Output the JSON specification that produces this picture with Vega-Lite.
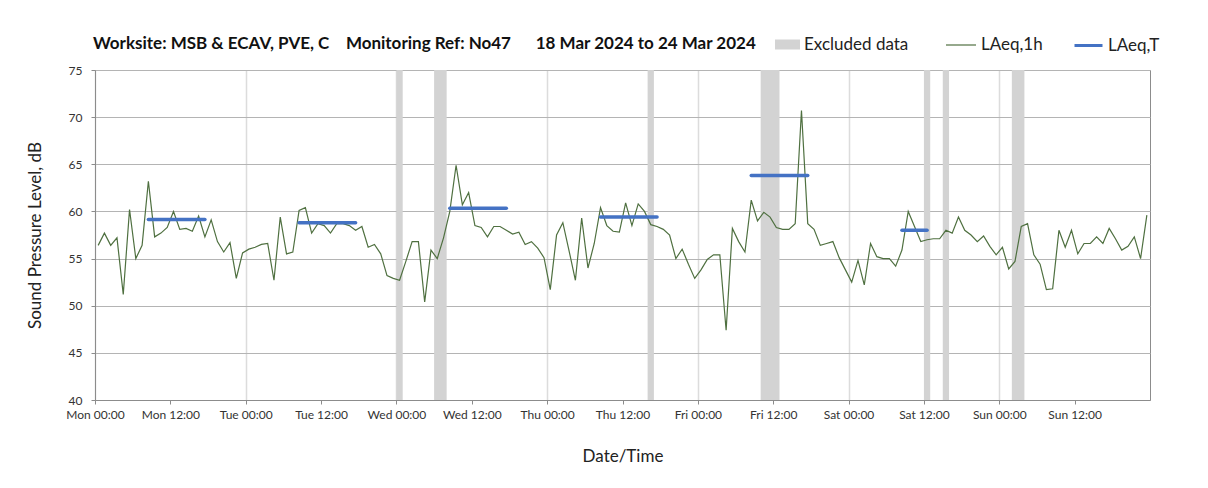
{
  "$schema": "https://vega.github.io/schema/vega-lite/v6.json",
  "width": 1055,
  "height": 330,
  "autosize": {"type": "none"},
  "padding": {"left": 95, "top": 70, "right": 58, "bottom": 88},
  "background": "#ffffff",
  "title": {
    "text": "Worksite: MSB & ECAV, PVE, C\u00a0\u00a0\u00a0\u00a0Monitoring Ref: No47\u00a0\u00a0\u00a0\u00a0\u00a0\u00a018 Mar 2024 to 24 Mar 2024",
    "anchor": "start", "frame": "group", "fontSize": 17, "fontWeight": "bold", "font": "Lato", "color": "#111111", "offset": 20, "dx": -2, "dy": 44
  },
  "config": {
    "font": "Lato",
    "view": {"stroke": "#8c8c8c", "strokeWidth": 1},
    "axis": {
      "labelFont": "Lato", "labelFontSize": 12, "labelColor": "#333333",
      "titleFont": "Lato", "titleFontSize": 17, "titleFontWeight": "normal", "titleColor": "#222222",
      "domainColor": "#8c8c8c", "tickColor": "#8c8c8c", "tickSize": 4
    },
    "legend": {
      "labelFont": "Lato", "labelFontSize": 17, "labelColor": "#222222", "labelOffset": 4, "title": null, "padding": 0
    }
  },
  "resolve": {"scale": {"stroke": "independent"}, "legend": {"stroke": "independent"}},
  "datasets": {
    "hourly": [
      {"t":"2024-03-18T00:30Z","v":56.4},{"t":"2024-03-18T01:30Z","v":57.7},{"t":"2024-03-18T02:30Z","v":56.4},{"t":"2024-03-18T03:30Z","v":57.2},{"t":"2024-03-18T04:30Z","v":51.2},{"t":"2024-03-18T05:30Z","v":60.2},{"t":"2024-03-18T06:30Z","v":55.0},{"t":"2024-03-18T07:30Z","v":56.4},{"t":"2024-03-18T08:30Z","v":63.2},{"t":"2024-03-18T09:30Z","v":57.3},{"t":"2024-03-18T10:30Z","v":57.7},{"t":"2024-03-18T11:30Z","v":58.3},{"t":"2024-03-18T12:30Z","v":60.0},{"t":"2024-03-18T13:30Z","v":58.1},{"t":"2024-03-18T14:30Z","v":58.2},{"t":"2024-03-18T15:30Z","v":57.9},{"t":"2024-03-18T16:30Z","v":59.5},{"t":"2024-03-18T17:30Z","v":57.3},{"t":"2024-03-18T18:30Z","v":59.1},{"t":"2024-03-18T19:30Z","v":56.8},{"t":"2024-03-18T20:30Z","v":55.7},{"t":"2024-03-18T21:30Z","v":56.7},{"t":"2024-03-18T22:30Z","v":52.9},{"t":"2024-03-18T23:30Z","v":55.6},
      {"t":"2024-03-19T00:30Z","v":56.0},{"t":"2024-03-19T01:30Z","v":56.2},{"t":"2024-03-19T02:30Z","v":56.5},{"t":"2024-03-19T03:30Z","v":56.6},{"t":"2024-03-19T04:30Z","v":52.7},{"t":"2024-03-19T05:30Z","v":59.4},{"t":"2024-03-19T06:30Z","v":55.5},{"t":"2024-03-19T07:30Z","v":55.7},{"t":"2024-03-19T08:30Z","v":60.1},{"t":"2024-03-19T09:30Z","v":60.4},{"t":"2024-03-19T10:30Z","v":57.7},{"t":"2024-03-19T11:30Z","v":58.7},{"t":"2024-03-19T12:30Z","v":58.5},{"t":"2024-03-19T13:30Z","v":57.7},{"t":"2024-03-19T14:30Z","v":58.7},{"t":"2024-03-19T15:30Z","v":58.7},{"t":"2024-03-19T16:30Z","v":58.5},{"t":"2024-03-19T17:30Z","v":58.0},{"t":"2024-03-19T18:30Z","v":58.4},{"t":"2024-03-19T19:30Z","v":56.2},{"t":"2024-03-19T20:30Z","v":56.5},{"t":"2024-03-19T21:30Z","v":55.5},{"t":"2024-03-19T22:30Z","v":53.2},{"t":"2024-03-19T23:30Z","v":52.9},
      {"t":"2024-03-20T00:30Z","v":52.7},{"t":"2024-03-20T01:30Z","v":54.7},{"t":"2024-03-20T02:30Z","v":56.8},{"t":"2024-03-20T03:30Z","v":56.8},{"t":"2024-03-20T04:30Z","v":50.4},{"t":"2024-03-20T05:30Z","v":55.9},{"t":"2024-03-20T06:30Z","v":55.0},{"t":"2024-03-20T07:30Z","v":57.2},{"t":"2024-03-20T08:30Z","v":60.0},{"t":"2024-03-20T09:30Z","v":64.9},{"t":"2024-03-20T10:30Z","v":60.7},{"t":"2024-03-20T11:30Z","v":62.0},{"t":"2024-03-20T12:30Z","v":58.5},{"t":"2024-03-20T13:30Z","v":58.3},{"t":"2024-03-20T14:30Z","v":57.3},{"t":"2024-03-20T15:30Z","v":58.4},{"t":"2024-03-20T16:30Z","v":58.4},{"t":"2024-03-20T17:30Z","v":58.0},{"t":"2024-03-20T18:30Z","v":57.6},{"t":"2024-03-20T19:30Z","v":57.8},{"t":"2024-03-20T20:30Z","v":56.5},{"t":"2024-03-20T21:30Z","v":56.8},{"t":"2024-03-20T22:30Z","v":56.1},{"t":"2024-03-20T23:30Z","v":55.1},
      {"t":"2024-03-21T00:30Z","v":51.7},{"t":"2024-03-21T01:30Z","v":57.5},{"t":"2024-03-21T02:30Z","v":58.8},{"t":"2024-03-21T03:30Z","v":55.8},{"t":"2024-03-21T04:30Z","v":52.7},{"t":"2024-03-21T05:30Z","v":59.3},{"t":"2024-03-21T06:30Z","v":54.0},{"t":"2024-03-21T07:30Z","v":56.6},{"t":"2024-03-21T08:30Z","v":60.4},{"t":"2024-03-21T09:30Z","v":58.5},{"t":"2024-03-21T10:30Z","v":57.9},{"t":"2024-03-21T11:30Z","v":57.8},{"t":"2024-03-21T12:30Z","v":60.9},{"t":"2024-03-21T13:30Z","v":58.5},{"t":"2024-03-21T14:30Z","v":60.8},{"t":"2024-03-21T15:30Z","v":60.0},{"t":"2024-03-21T16:30Z","v":58.6},{"t":"2024-03-21T17:30Z","v":58.4},{"t":"2024-03-21T18:30Z","v":58.1},{"t":"2024-03-21T19:30Z","v":57.5},{"t":"2024-03-21T20:30Z","v":55.0},{"t":"2024-03-21T21:30Z","v":56.0},{"t":"2024-03-21T22:30Z","v":54.4},{"t":"2024-03-21T23:30Z","v":52.9},
      {"t":"2024-03-22T00:30Z","v":53.8},{"t":"2024-03-22T01:30Z","v":54.9},{"t":"2024-03-22T02:30Z","v":55.4},{"t":"2024-03-22T03:30Z","v":55.4},{"t":"2024-03-22T04:30Z","v":47.4},{"t":"2024-03-22T05:30Z","v":58.2},{"t":"2024-03-22T06:30Z","v":56.8},{"t":"2024-03-22T07:30Z","v":55.7},{"t":"2024-03-22T08:30Z","v":61.2},{"t":"2024-03-22T09:30Z","v":59.0},{"t":"2024-03-22T10:30Z","v":59.9},{"t":"2024-03-22T11:30Z","v":59.4},{"t":"2024-03-22T12:30Z","v":58.3},{"t":"2024-03-22T13:30Z","v":58.1},{"t":"2024-03-22T14:30Z","v":58.1},{"t":"2024-03-22T15:30Z","v":58.7},{"t":"2024-03-22T16:30Z","v":70.7},{"t":"2024-03-22T17:30Z","v":58.7},{"t":"2024-03-22T18:30Z","v":58.1},{"t":"2024-03-22T19:30Z","v":56.4},{"t":"2024-03-22T20:30Z","v":56.6},{"t":"2024-03-22T21:30Z","v":56.8},{"t":"2024-03-22T22:30Z","v":55.1},{"t":"2024-03-22T23:30Z","v":53.8},
      {"t":"2024-03-23T00:30Z","v":52.5},{"t":"2024-03-23T01:30Z","v":54.8},{"t":"2024-03-23T02:30Z","v":52.2},{"t":"2024-03-23T03:30Z","v":56.6},{"t":"2024-03-23T04:30Z","v":55.2},{"t":"2024-03-23T05:30Z","v":55.0},{"t":"2024-03-23T06:30Z","v":55.0},{"t":"2024-03-23T07:30Z","v":54.2},{"t":"2024-03-23T08:30Z","v":55.9},{"t":"2024-03-23T09:30Z","v":60.0},{"t":"2024-03-23T10:30Z","v":58.4},{"t":"2024-03-23T11:30Z","v":56.8},{"t":"2024-03-23T12:30Z","v":57.0},{"t":"2024-03-23T13:30Z","v":57.1},{"t":"2024-03-23T14:30Z","v":57.1},{"t":"2024-03-23T15:30Z","v":58.0},{"t":"2024-03-23T16:30Z","v":57.7},{"t":"2024-03-23T17:30Z","v":59.4},{"t":"2024-03-23T18:30Z","v":58.0},{"t":"2024-03-23T19:30Z","v":57.5},{"t":"2024-03-23T20:30Z","v":56.8},{"t":"2024-03-23T21:30Z","v":57.4},{"t":"2024-03-23T22:30Z","v":56.3},{"t":"2024-03-23T23:30Z","v":55.4},
      {"t":"2024-03-24T00:30Z","v":56.2},{"t":"2024-03-24T01:30Z","v":53.9},{"t":"2024-03-24T02:30Z","v":54.7},{"t":"2024-03-24T03:30Z","v":58.4},{"t":"2024-03-24T04:30Z","v":58.7},{"t":"2024-03-24T05:30Z","v":55.4},{"t":"2024-03-24T06:30Z","v":54.4},{"t":"2024-03-24T07:30Z","v":51.7},{"t":"2024-03-24T08:30Z","v":51.8},{"t":"2024-03-24T09:30Z","v":58.0},{"t":"2024-03-24T10:30Z","v":56.2},{"t":"2024-03-24T11:30Z","v":58.0},{"t":"2024-03-24T12:30Z","v":55.5},{"t":"2024-03-24T13:30Z","v":56.6},{"t":"2024-03-24T14:30Z","v":56.6},{"t":"2024-03-24T15:30Z","v":57.3},{"t":"2024-03-24T16:30Z","v":56.6},{"t":"2024-03-24T17:30Z","v":58.2},{"t":"2024-03-24T18:30Z","v":57.1},{"t":"2024-03-24T19:30Z","v":55.9},{"t":"2024-03-24T20:30Z","v":56.3},{"t":"2024-03-24T21:30Z","v":57.3},{"t":"2024-03-24T22:30Z","v":55.0},{"t":"2024-03-24T23:30Z","v":59.6}
    ],
    "excluded": [
      {"start":"2024-03-20T00:00Z","end":"2024-03-20T01:00Z","series":"Excluded data"},
      {"start":"2024-03-20T06:00Z","end":"2024-03-20T08:00Z","series":"Excluded data"},
      {"start":"2024-03-21T16:00Z","end":"2024-03-21T17:00Z","series":"Excluded data"},
      {"start":"2024-03-22T10:00Z","end":"2024-03-22T13:00Z","series":"Excluded data"},
      {"start":"2024-03-23T12:00Z","end":"2024-03-23T13:00Z","series":"Excluded data"},
      {"start":"2024-03-23T15:00Z","end":"2024-03-23T16:00Z","series":"Excluded data"},
      {"start":"2024-03-24T02:00Z","end":"2024-03-24T04:00Z","series":"Excluded data"}
    ],
    "period": [
      {"start":"2024-03-18T08:30Z","end":"2024-03-18T17:30Z","v":59.15},
      {"start":"2024-03-19T08:30Z","end":"2024-03-19T17:30Z","v":58.8},
      {"start":"2024-03-20T08:30Z","end":"2024-03-20T17:30Z","v":60.35},
      {"start":"2024-03-21T08:30Z","end":"2024-03-21T17:30Z","v":59.4},
      {"start":"2024-03-22T08:30Z","end":"2024-03-22T17:30Z","v":63.8},
      {"start":"2024-03-23T08:30Z","end":"2024-03-23T12:30Z","v":58.0}
    ]
  },
  "layer": [
    {
      "data": {"name": "excluded"},
      "mark": {"type": "rect", "opacity": 1},
      "encoding": {
        "x": {
          "field": "start", "type": "temporal", "title": "Date/Time",
          "scale": {"type": "utc", "domain": [1710720000000, 1711324800000], "nice": false},
          "axis": {
            "values": [1710720000000,1710763200000,1710806400000,1710849600000,1710892800000,1710936000000,1710979200000,1711022400000,1711065600000,1711108800000,1711152000000,1711195200000,1711238400000,1711281600000],
            "labelExpr": "utcFormat(datum.value, '%a %H:%M')",
            "labelOverlap": false, "labelFlush": false, "labelBound": false,
            "labelPadding": 5, "titlePadding": 28,
            "grid": true, "gridColor": "#dcdcdc", "gridWidth": 1.5,
            "gridOpacity": {"condition": {"test": "utchours(datum.value) === 0", "value": 1}, "value": 0}
          }
        },
        "x2": {"field": "end"},
        "fill": {
          "field": "series", "type": "nominal",
          "scale": {"domain": ["Excluded data"], "range": ["#d3d3d3"]},
          "legend": {
            "orient": "none", "legendX": 680, "legendY": -38,
            "symbolType": "M-1,-0.4H1V0.4H-1Z", "symbolSize": 625, "symbolStrokeWidth": 0, "symbolOpacity": 1
          }
        }
      }
    },
    {
      "data": {"name": "hourly"},
      "mark": {"type": "line", "strokeWidth": 1.2},
      "encoding": {
        "x": {"field": "t", "type": "temporal", "title": "Date/Time"},
        "y": {
          "field": "v", "type": "quantitative", "title": "Sound Pressure Level, dB",
          "scale": {"domain": [40, 75], "nice": false, "zero": false},
          "axis": {"values": [40,45,50,55,60,65,70,75], "grid": true, "gridColor": "#b4b4b4", "gridWidth": 1, "labelPadding": 9, "titlePadding": 24}
        },
        "stroke": {
          "datum": "LAeq,1h", "type": "nominal",
          "scale": {"domain": ["LAeq,1h"], "range": ["#4f7040"]},
          "legend": {"orient": "none", "legendX": 850, "legendY": -41, "symbolType": "stroke", "symbolSize": 900, "symbolStrokeWidth": 1.2}
        }
      }
    },
    {
      "data": {"name": "period"},
      "mark": {"type": "rule", "strokeWidth": 3.5, "strokeCap": "round"},
      "encoding": {
        "x": {"field": "start", "type": "temporal", "title": "Date/Time"},
        "x2": {"field": "end"},
        "y": {"field": "v", "type": "quantitative", "title": "Sound Pressure Level, dB"},
        "stroke": {
          "datum": "LAeq,T", "type": "nominal",
          "scale": {"domain": ["LAeq,T"], "range": ["#4472c4"]},
          "legend": {"orient": "none", "legendX": 978, "legendY": -40, "symbolType": "stroke", "symbolSize": 784, "symbolStrokeWidth": 3}
        }
      }
    }
  ]
}
